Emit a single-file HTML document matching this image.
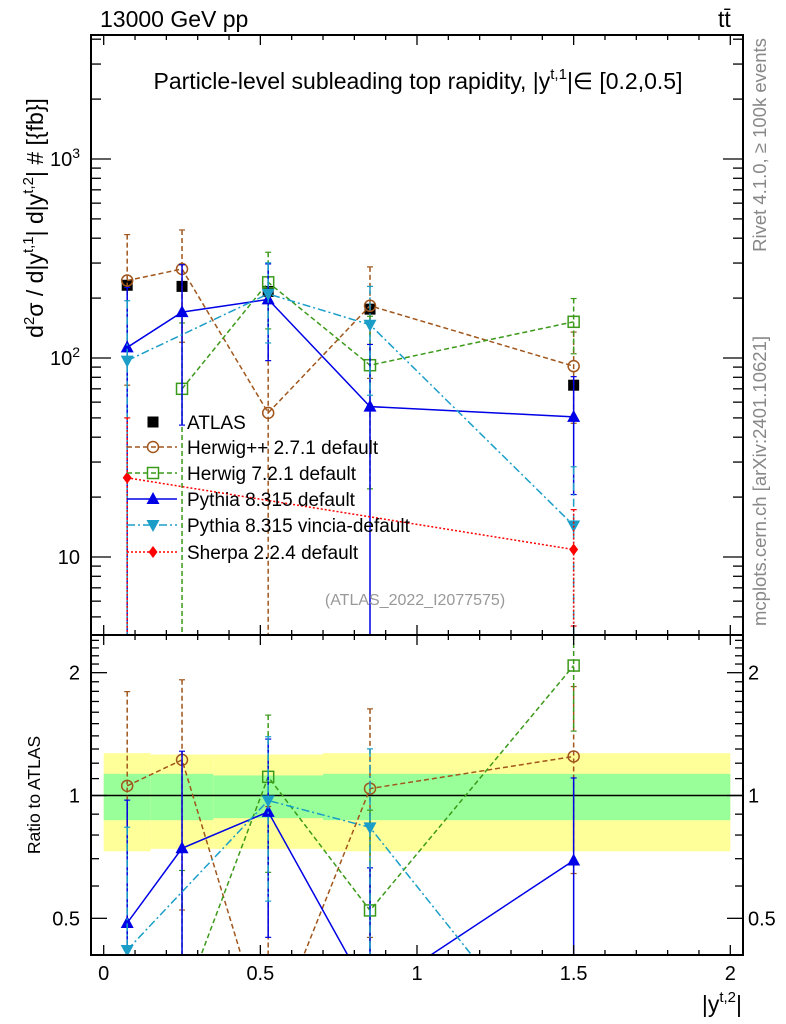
<!DOCTYPE html>
<html><head><meta charset="utf-8">
<style>
html,body{margin:0;padding:0;background:#fff;overflow:hidden;width:786px;height:1024px;}
svg{display:block;font-family:"Liberation Sans",sans-serif;}
</style></head>
<body>
<svg id="chart" width="786" height="1024" viewBox="0 0 786 1024" xmlns="http://www.w3.org/2000/svg">
<g id="bands"></g>
<g id="grid"></g>
<g id="series"></g>
<g id="frame"></g>
<text x="100" y="27" font-size="23">13000 GeV pp</text>
<text x="718" y="27" font-size="23">tt̄</text>
<text x="418" y="89" font-size="23" text-anchor="middle">Particle-level subleading top rapidity, |y<tspan dy="-10" font-size="15">t,1</tspan><tspan dy="10">|∈ [0.2,0.5]</tspan></text>
<text x="415" y="605" font-size="16" fill="#999" text-anchor="middle">(ATLAS_2022_I2077575)</text>
<text transform="translate(766,145) rotate(-90)" font-size="18.5" fill="#888" text-anchor="middle">Rivet 4.1.0, ≥ 100k events</text>
<text transform="translate(766,481) rotate(-90)" font-size="18.5" fill="#888" text-anchor="middle">mcplots.cern.ch [arXiv:2401.10621]</text>
<text transform="translate(43,218) rotate(-90)" font-size="23" text-anchor="middle">d<tspan dy="-9" font-size="15">2</tspan><tspan dy="9">σ / d|y</tspan><tspan dy="-10" font-size="15">t,1</tspan><tspan dy="10">| d|y</tspan><tspan dy="-10" font-size="15">t,2</tspan><tspan dy="10">| # [{fb}]</tspan></text>
<text transform="translate(40,795) rotate(-90)" font-size="17.5" text-anchor="middle">Ratio to ATLAS</text>
<text x="742" y="1012" font-size="23" text-anchor="end">|y<tspan dy="-10" font-size="15">t,2</tspan><tspan dy="10">|</tspan></text>
<g id="legend"></g>
</svg>
<script>
// ---- data ----
const xCenters = [0.075, 0.25, 0.525, 0.85, 1.5];
const binEdges = [0, 0.15, 0.35, 0.7, 1.0, 2.0];
const atlasVals = [232, 229, 216, 176, 73];
const bandYellow = [0.27, 0.26, 0.26, 0.27, 0.27];
const bandGreen = [0.13, 0.13, 0.12, 0.13, 0.13];
const herwigppVals = [245, 280, 53, 183, 91];
const herwigppErr = [172, 160, 150, 104, 44];
const herwig7Vals = [null, 70, 240, 92, 152];
const herwig7Err = [null, 80, 100, 70, 47];
const pythiaVals = [113, 170, 197, 57, 50.6];
const pythiaErr = [113, 124, 100, 60, 30];
const vinciaVals = [97, null, 210, 147, 14.4];
const vinciaErr = [97, null, 91, 82, 14];
const sherpaVals = [25, null, null, null, 10.9];
const sherpaErr = [25, null, null, null, 6.4];
const xTicks = [0, 0.5, 1, 1.5, 2];
const xTickLabels = ["0", "0.5", "1", "1.5", "2"];
const yMainTicks = [1000, 100, 10];
const yMainLabels = ["10^3", "10^2", "10"];
const yRatioTicks = [2, 1, 0.5];
const yRatioLabels = ["2", "1", "0.5"];

// ---- geometry ----
const L=91, R=743, T=35, MID=635, B=955;
const xs = v => 103.7 + v*313.3;
const ys = v => 159 - (Math.log10(v)-3)*199;
const yr = v => 795.5 - Math.log10(v)*408;
const NS="http://www.w3.org/2000/svg";
function mk(tag, attrs, parent){const e=document.createElementNS(NS,tag);for(const k in attrs)e.setAttribute(k,attrs[k]);parent.appendChild(e);return e;}
const clamp=(y,a,b)=>Math.max(a,Math.min(b,y));

// bands
const bg=document.getElementById('bands');
for(let i=0;i<xCenters.length;i++){
  const x0=xs(binEdges[i]), x1=xs(binEdges[i+1]);
  const r1=mk('rect',{x:x0,y:yr(1+bandYellow[i]),width:x1-x0,height:yr(1-bandYellow[i])-yr(1+bandYellow[i]),fill:'#ffff99'},bg);
  
  
  const r2=mk('rect',{x:x0,y:yr(1+bandGreen[i]),width:x1-x0,height:yr(1-bandGreen[i])-yr(1+bandGreen[i]),fill:'#99ff99'},bg);
  
  
}
mk('line',{x1:L,x2:R,y1:yr(1),y2:yr(1),stroke:'#000','stroke-width':1.5},bg);

// series
const sg=document.getElementById('series');
const series=[
 {name:'herwigpp',vals:herwigppVals,err:herwigppErr,color:'#a0561c',dash:'5,3',marker:'circle'},
 {name:'herwig7',vals:herwig7Vals,err:herwig7Err,color:'#3c9a1a',dash:'5,3',marker:'square'},
 {name:'pythia',vals:pythiaVals,err:pythiaErr,color:'#0000e6',dash:'',marker:'tri-up'},
 {name:'vincia',vals:vinciaVals,err:vinciaErr,color:'#1a9ec8',dash:'8,3,2,3',marker:'tri-down'},
 {name:'sherpa',vals:sherpaVals,err:sherpaErr,color:'#ff0000',dash:'2,2',marker:'diamond'}
];
function marker(type,x,y,c,parent){
  let e;
  if(type==='circle') e=mk('circle',{cx:x,cy:y,r:5.5,fill:'none',stroke:c,'stroke-width':1.5},parent);
  else if(type==='square') e=mk('rect',{x:x-5.5,y:y-5.5,width:11,height:11,fill:'none',stroke:c,'stroke-width':1.5},parent);
  else if(type==='tri-up') e=mk('polygon',{points:`${x},${y-7} ${x-6.5},${y+5} ${x+6.5},${y+5}`,fill:c},parent);
  else if(type==='tri-down') e=mk('polygon',{points:`${x},${y+7} ${x-6.5},${y-5} ${x+6.5},${y-5}`,fill:c},parent);
  else if(type==='diamond') e=mk('polygon',{points:`${x},${y-6} ${x-4.5},${y} ${x},${y+6} ${x+4.5},${y}`,fill:c},parent);
  else if(type==='sq-fill') e=mk('rect',{x:x-5.5,y:y-5.5,width:11,height:11,fill:c},parent);
  return e;
}
function drawPanel(clipTop,clipBot,yf,valsFn,errFn,s,g,label){
  const pts=[];
  for(let i=0;i<xCenters.length;i++){
    const v=valsFn(i); if(v==null) continue;
    pts.push([xs(xCenters[i]),yf(v),i]);
  }
  const d=pts.map((p,k)=>(k?'L':'M')+p[0]+','+p[1]).join(' ');
  const path=mk('path',{d:d,fill:'none',stroke:s.color,'stroke-width':1.5,'stroke-dasharray':s.dash},g);
  
  
  pts.forEach(p=>{
    const i=p[2], v=valsFn(i), e=errFn(i);
    const yt=clamp(yf(v+e),clipTop,clipBot), yb=(v-e>0)?clamp(yf(v-e),clipTop,clipBot):clipBot;
    const eb=mk('line',{x1:p[0],x2:p[0],y1:yt,y2:yb,stroke:s.color,'stroke-width':1.5,'stroke-dasharray':s.dash},g);
    
    
    if(yt>clipTop) mk('line',{x1:p[0]-3,x2:p[0]+3,y1:yt,y2:yt,stroke:s.color,'stroke-width':1.2},g);
    if(yb<clipBot) mk('line',{x1:p[0]-3,x2:p[0]+3,y1:yb,y2:yb,stroke:s.color,'stroke-width':1.2},g);
  });
  pts.forEach(p=>{
    if(p[1]<clipTop||p[1]>clipBot) return;
    const m=marker(s.marker,p[0],p[1],s.color,g);
    
    
  });
}
const cm=mk('clipPath',{id:'cm'},sg);
mk('rect',{x:L,y:T,width:R-L,height:MID-T},cm);
const cr=mk('clipPath',{id:'cr'},sg);
mk('rect',{x:L,y:MID,width:R-L,height:B-MID},cr);
const gm=mk('g',{'clip-path':'url(#cm)'},sg);
const gr=mk('g',{'clip-path':'url(#cr)'},sg);
// ATLAS data
atlasVals.forEach((v,i)=>{
  const m=marker('sq-fill',xs(xCenters[i]),ys(v),'#000',gm);
  
  
});
series.forEach(s=>{
  drawPanel(T,MID,ys,i=>s.vals[i],i=>s.err[i],s,gm,'main');
  drawPanel(MID,B,yr,i=>s.vals[i]==null?null:s.vals[i]/atlasVals[i],i=>s.err[i]/atlasVals[i],s,gr,'ratio');
});

// frame & ticks
const fg=document.getElementById('frame');
const f1=mk('rect',{x:L,y:T,width:R-L,height:MID-T,fill:'none',stroke:'#000','stroke-width':2},fg);


const f2=mk('rect',{x:L,y:MID,width:R-L,height:B-MID,fill:'none',stroke:'#000','stroke-width':2},fg);


function tick(x1,y1,x2,y2){mk('line',{x1,y1,x2,y2,stroke:'#000','stroke-width':1.3},fg);}
for(let v=0;v<=2.001;v+=0.1){
  const x=xs(v), big=Math.abs(v*2-Math.round(v*2))<1e-6, len=big?10:5;
  tick(x,T,x,T+len);tick(x,MID,x,MID-len);tick(x,MID,x,MID+len);tick(x,B,x,B-len);
}
xTicks.forEach((v,i)=>{const t=mk('text',{x:xs(v),y:980,'font-size':20,'text-anchor':'middle'},fg);t.textContent=xTickLabels[i];
 });
for(let d=0;d<=3;d++)for(let k=1;k<10;k++){
  const v=k*Math.pow(10,d), y=ys(v); if(y<T||y>MID) continue;
  const len=k===1?20:10;
  tick(L,y,L+len,y);tick(R,y,R-len,y);
}
yMainTicks.forEach((v,i)=>{
  const lab=yMainLabels[i]; const t=mk('text',{x:80,y:ys(v)+7,'font-size':20,'text-anchor':'end'},fg);
  if(lab.includes('^')){const [b,e]=lab.split('^');t.textContent=b;const ts=mk('tspan',{dy:-8,'font-size':14},t);ts.textContent=e;}
  else t.textContent=lab;
  
});
[0.4,0.5,0.6,0.7,0.8,0.9,1,1.1,1.2,1.3,1.4,1.5,1.6,1.7,1.8,1.9,2,2.1,2.2,2.3,2.4].forEach(v=>{
  const y=yr(v); if(y<MID||y>B) return;
  const len=(v===0.5||v===1||v===2)?16:8;
  tick(L,y,L+len,y);tick(R,y,R-len,y);
});
yRatioTicks.forEach((v,i)=>{
  let t=mk('text',{x:80,y:yr(v)+7,'font-size':20,'text-anchor':'end'},fg);t.textContent=yRatioLabels[i];
  
  t=mk('text',{x:748,y:yr(v)+7,'font-size':20},fg);t.textContent=yRatioLabels[i];
  
});

// legend
const lg=document.getElementById('legend');
const legItems=[['ATLAS',null],['Herwig++ 2.7.1 default',series[0]],['Herwig 7.2.1 default',series[1]],['Pythia 8.315 default',series[2]],['Pythia 8.315 vincia-default',series[3]],['Sherpa 2.2.4 default',series[4]]];
const legY=[422,447,473,499,525,552];
legItems.forEach((it,i)=>{
  const g=mk('g',{},lg);
  
  
  const y=legY[i];
  if(it[1]){const s=it[1];mk('line',{x1:127,x2:177,y1:y,y2:y,stroke:s.color,'stroke-width':1.5,'stroke-dasharray':s.dash},g);marker(s.marker,153,y,s.color,g);}
  else marker('sq-fill',153,y,'#000',g);
  const t=mk('text',{x:187,y:y+7,'font-size':19},g);t.textContent=it[0];
});
</script>
</body></html>
